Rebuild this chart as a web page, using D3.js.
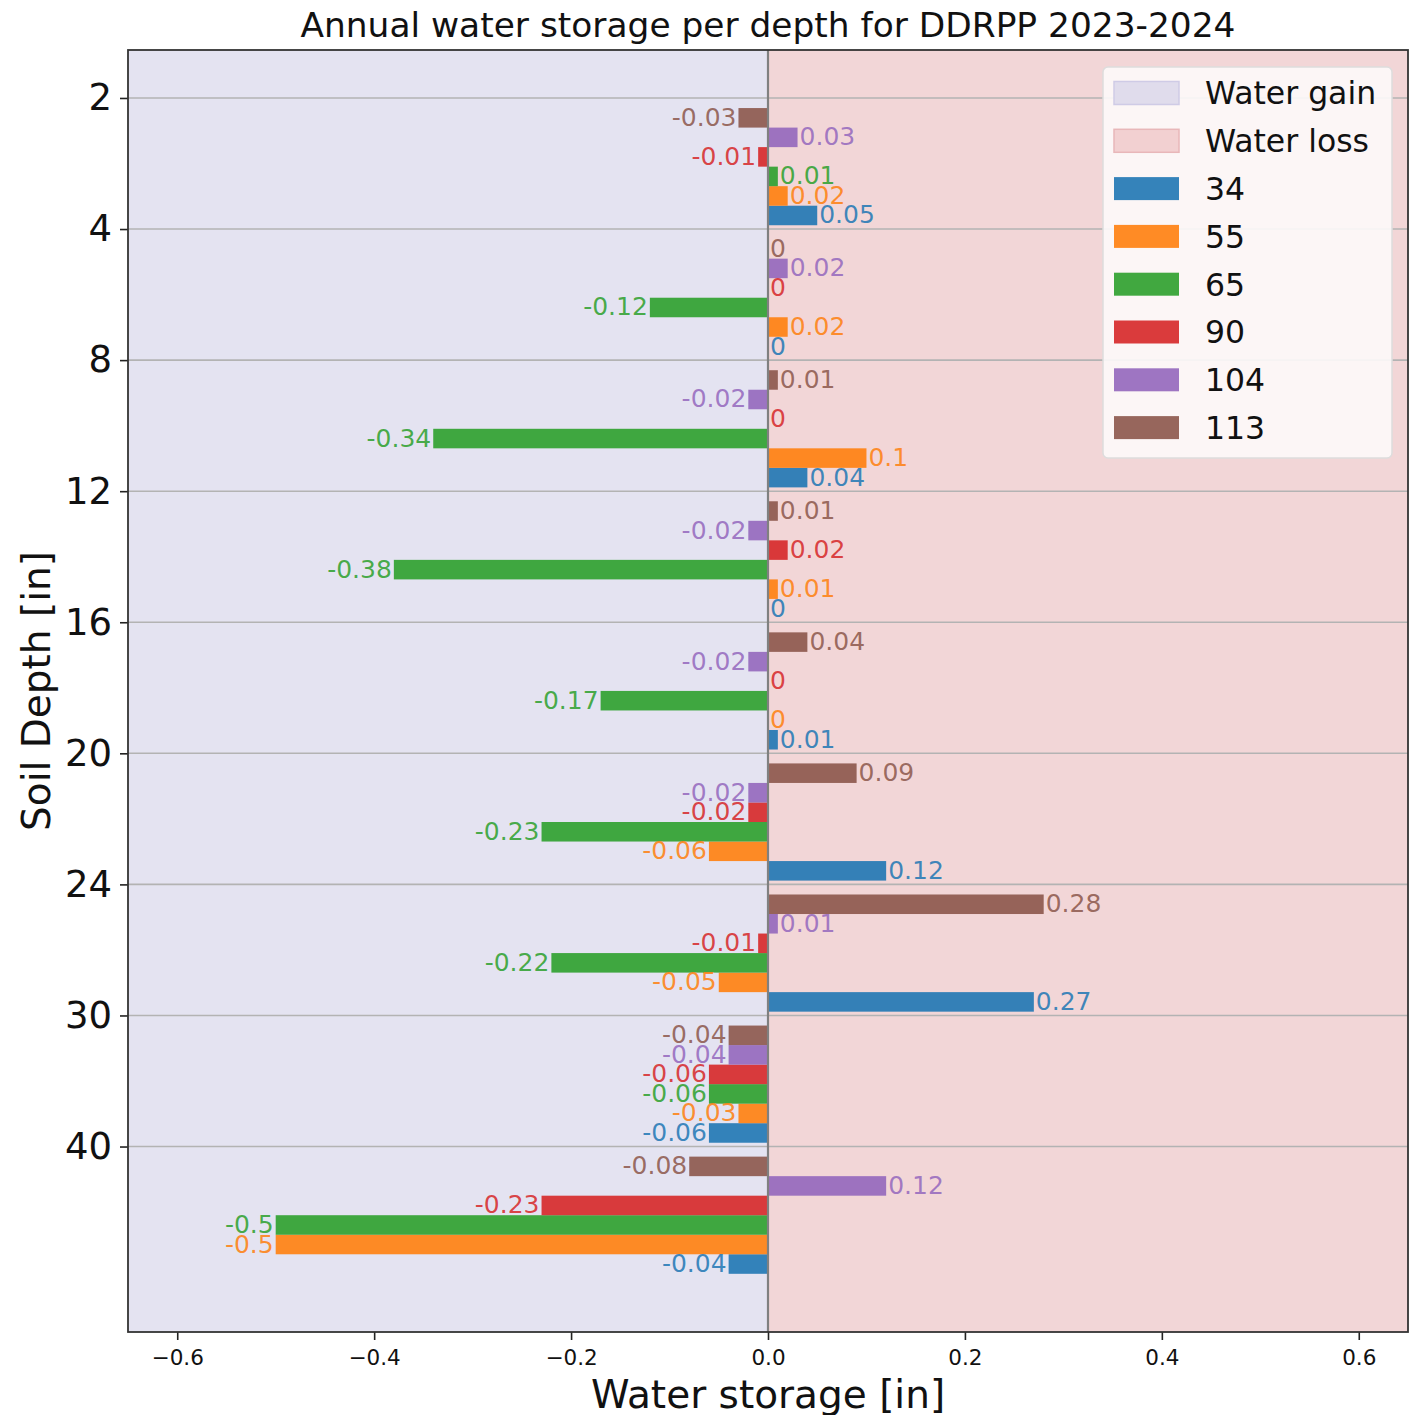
<!DOCTYPE html>
<html>
<head>
<meta charset="utf-8">
<script src="https://cdn.jsdelivr.net/npm/d3@7"></script>
<style>
  body { margin: 0; background: #fff; }
  svg { font-family: "DejaVu Sans", sans-serif; }
</style>
</head>
<body>
<div id="chart"></div>
<script>
// depth boundaries shown on the y axis
const depthTicks = ['2', '4', '8', '12', '16', '20', '24', '30', '40'];
// sensor series, drawn bottom to top inside each group
const series = ['34', '55', '65', '90', '104', '113'];
const colors = ['#1f77b4', '#ff7f0e', '#2ca02c', '#d62728', '#9467bd', '#8c564b'];

// one array per series, one value per depth group (2-4, 4-8, ..., 40+)
const s34  = [0.05, 0, 0.04, 0, 0.01, 0.12, 0.27, -0.06, -0.04];
const s55  = [0.02, 0.02, 0.1, 0.01, 0, -0.06, -0.05, -0.03, -0.5];
const s65  = [0.01, -0.12, -0.34, -0.38, -0.17, -0.23, -0.22, -0.06, -0.5];
const s90  = [-0.01, 0, 0, 0.02, 0, -0.02, -0.01, -0.06, -0.23];
const s104 = [0.03, 0.02, -0.02, -0.02, -0.02, -0.02, 0.01, -0.04, 0.12];
const s113 = [-0.03, 0, 0.01, 0.01, 0.04, 0.09, 0.28, -0.04, -0.08];
const values = [s34, s55, s65, s90, s104, s113];

const xTicks = [-0.6, -0.4, -0.2, 0.0, 0.2, 0.4, 0.6];

const W = 1409, H = 1415;
const plotL = 128, plotR = 1408, plotT = 50, plotB = 1332;

const svg = d3.select('#chart').append('svg')
    .attr('width', W)
    .attr('height', H);

const x = d3.scaleLinear().domain([-0.65, 0.65]).range([plotL, plotR]);
// y in "group" units: tick i sits at i, group i occupies i .. i+1
const y = d3.scaleLinear().domain([-0.366, 9.415]).range([plotT, plotB]);
const barStep = 0.149;
const groupCenter = 0.524;

// background halves
svg.append('rect')
    .attr('x', x(-0.65)).attr('y', plotT)
    .attr('width', x(0) - x(-0.65)).attr('height', plotB - plotT)
    .attr('fill', '#e4e3f1');
svg.append('rect')
    .attr('x', x(0)).attr('y', plotT)
    .attr('width', x(0.65) - x(0)).attr('height', plotB - plotT)
    .attr('fill', '#f2d6d7');

// horizontal grid lines
svg.append('g').selectAll('line')
    .data(depthTicks)
    .join('line')
    .attr('x1', plotL).attr('x2', plotR)
    .attr('y1', (d, i) => y(i)).attr('y2', (d, i) => y(i))
    .attr('stroke', '#b3b3b3')
    .attr('stroke-width', 1.6);

// bars
const bars = [];
values.forEach((vals, j) => {
    vals.forEach((v, i) => {
        bars.push({ v, i, j });
    });
});

const barY = d => y(d.i + groupCenter + (2.5 - d.j) * barStep);
const bh = y(barStep) - y(0);

svg.append('g').selectAll('rect')
    .data(bars)
    .join('rect')
    .attr('x', d => x(Math.min(0, d.v)))
    .attr('y', d => barY(d) - bh / 2)
    .attr('width', d => Math.abs(x(d.v) - x(0)))
    .attr('height', bh)
    .attr('fill', d => colors[d.j])
    .attr('fill-opacity', 0.9);

// zero line
svg.append('line')
    .attr('x1', x(0)).attr('x2', x(0))
    .attr('y1', plotT).attr('y2', plotB)
    .attr('stroke', '#808080')
    .attr('stroke-width', 2.2);

// bar labels
svg.append('g').selectAll('text')
    .data(bars)
    .join('text')
    .attr('x', d => d.v < 0 ? x(d.v) - 2 : x(d.v) + 2)
    .attr('y', d => barY(d) - 1)
    .attr('dy', '0.36em')
    .attr('text-anchor', d => d.v < 0 ? 'end' : 'start')
    .attr('font-size', 25)
    .attr('fill', d => colors[d.j])
    .attr('fill-opacity', 0.85)
    .text(d => String(d.v));

// legend
const legendItems = [
    { label: 'Water gain', fill: '#e0dcec', stroke: '#cfcbe6' },
    { label: 'Water loss', fill: '#f2d0d1', stroke: '#e8b7b9' }
].concat(series.map((s, j) => ({ label: s, fill: colors[j], stroke: null })));

const lg = svg.append('g');
lg.append('rect')
    .attr('x', 1103).attr('y', 67)
    .attr('width', 289).attr('height', 391)
    .attr('rx', 5)
    .attr('fill', '#fdf9f9')
    .attr('fill-opacity', 0.9)
    .attr('stroke', '#dddddd')
    .attr('stroke-width', 1.5);

const rows = lg.selectAll('g.row')
    .data(legendItems)
    .join('g')
    .attr('class', 'row')
    .attr('transform', (d, i) => `translate(0, ${93 + i * 47.8})`);

rows.append('rect')
    .attr('x', 1114).attr('y', -11.5)
    .attr('width', 65).attr('height', 23)
    .attr('fill', d => d.fill)
    .attr('fill-opacity', d => d.stroke ? 1 : 0.9)
    .attr('stroke', d => d.stroke || 'none')
    .attr('stroke-width', 1.5);

rows.append('text')
    .attr('x', 1205).attr('y', 0)
    .attr('dy', '0.36em')
    .attr('font-size', 31.5)
    .attr('fill', '#111')
    .text(d => d.label);

// x axis
const xAxis = svg.append('g')
    .attr('transform', `translate(0, ${plotB})`)
    .call(d3.axisBottom(x).tickValues(xTicks).tickSize(8).tickPadding(10)
        .tickFormat(d => d3.format('.1f')(d).replace('-', '\u2212')));
xAxis.select('.domain').remove();
xAxis.selectAll('line').attr('stroke', '#222').attr('stroke-width', 1.6);
xAxis.selectAll('text').attr('font-size', 21.5).attr('fill', '#111')
    .attr('font-family', '"DejaVu Sans", sans-serif');

// y axis
const yAxis = svg.append('g')
    .attr('transform', `translate(${plotL}, 0)`)
    .call(d3.axisLeft(y)
        .tickValues(depthTicks.map((d, i) => i)).tickSize(8).tickPadding(8)
        .tickFormat(i => depthTicks[i]));
yAxis.select('.domain').remove();
yAxis.selectAll('line').attr('stroke', '#222').attr('stroke-width', 1.6);
yAxis.selectAll('text').attr('font-size', 37).attr('fill', '#111')
    .attr('font-family', '"DejaVu Sans", sans-serif');

// frame
svg.append('rect')
    .attr('x', plotL).attr('y', plotT)
    .attr('width', plotR - plotL).attr('height', plotB - plotT)
    .attr('fill', 'none')
    .attr('stroke', '#333')
    .attr('stroke-width', 1.8);

// titles
svg.append('text')
    .attr('x', (plotL + plotR) / 2).attr('y', 37)
    .attr('text-anchor', 'middle')
    .attr('font-size', 34.4)
    .attr('fill', '#111')
    .text('Annual water storage per depth for DDRPP 2023-2024');

svg.append('text')
    .attr('x', (plotL + plotR) / 2).attr('y', 1408)
    .attr('text-anchor', 'middle')
    .attr('font-size', 39)
    .attr('fill', '#111')
    .text('Water storage [in]');

svg.append('text')
    .attr('transform', `translate(50, ${(plotT + plotB) / 2}) rotate(-90)`)
    .attr('text-anchor', 'middle')
    .attr('font-size', 39)
    .attr('fill', '#111')
    .text('Soil Depth [in]');
</script>
</body>
</html>
